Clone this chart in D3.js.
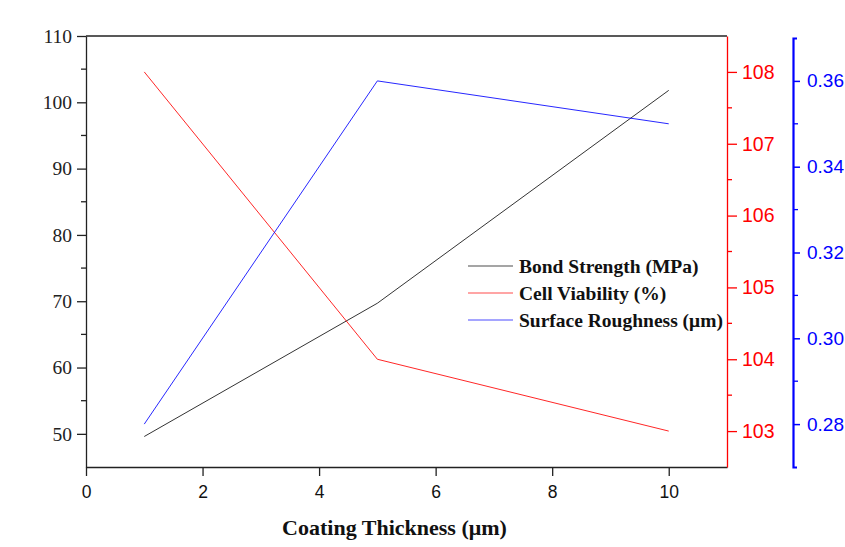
<!DOCTYPE html>
<html>
<head>
<meta charset="utf-8">
<script src="https://cdn.jsdelivr.net/npm/d3@7"></script>
<style>
  body { margin: 0; background: #fff; }
  svg { display: block; }
</style>
</head>
<body>
<script>
// data
const thickness = [1, 5, 10];
const bondStrength = [49.6, 69.7, 101.8];
const cellViability = [108.0, 104.0, 103.0];
const roughness = [0.280, 0.360, 0.350];

const seriesNames = ['Bond Strength (MPa)', 'Cell Viability (%)', 'Surface Roughness (\u03bcm)'];
const seriesColors = ['#000000', '#ff0000', '#0000ff'];

const xTicks = [0, 2, 4, 6, 8, 10];
const leftTicks = [50, 60, 70, 80, 90, 100, 110];
const redTicks = [103, 104, 105, 106, 107, 108];
const blueTicks = [0.28, 0.30, 0.32, 0.34, 0.36];

// layout
const width = 845;
const height = 547;
const plotLeft = 86, plotRight = 727, plotTop = 36, plotBottom = 467;
const blueX = 793;

const svg = d3.select('body').append('svg')
  .attr('width', width)
  .attr('height', height);

// scales
const x = d3.scaleLinear().domain([0, 11]).range([plotLeft, plotRight]);
const yLeft = d3.scaleLinear().domain([45, 110]).range([plotBottom, plotTop]);
const yRed = d3.scaleLinear().domain([102.5, 108.5]).range([plotBottom, plotTop]);
const yBlue = d3.scaleLinear().domain([0.27, 0.37]).range([plotBottom, plotTop + 2]);

// top frame line
svg.append('line')
  .attr('x1', plotLeft).attr('x2', plotRight)
  .attr('y1', plotTop).attr('y2', plotTop)
  .attr('stroke', '#222').attr('stroke-width', 1.3);

// minor ticks helper
const minor = (g, scale, vals, dir, len, color) => {
  g.selectAll(null).data(vals).join('line')
    .attr('x1', 0).attr('x2', dir * len)
    .attr('y1', (d) => scale(d)).attr('y2', (d) => scale(d))
    .attr('stroke', color).attr('stroke-width', 1.3);
};

// x axis
const gx = svg.append('g')
  .attr('transform', `translate(0,${plotBottom})`)
  .call(d3.axisBottom(x).tickValues(xTicks).tickSize(9).tickSizeOuter(0).tickFormat(d3.format('d')));
gx.select('.domain').attr('stroke', '#222').attr('stroke-width', 1.3);
gx.selectAll('.tick line').attr('stroke', '#222').attr('stroke-width', 1.3);
gx.selectAll('.tick text')
  .attr('dy', '1.1em')
  .style('font-family', '"Liberation Sans", Arial, sans-serif')
  .style('font-size', '17.5px')
  .attr('fill', '#111');

// left axis
const gl = svg.append('g')
  .attr('transform', `translate(${plotLeft},0)`)
  .call(d3.axisLeft(yLeft).tickValues(leftTicks).tickSize(9).tickSizeOuter(0));
gl.select('.domain').attr('stroke', '#222').attr('stroke-width', 1.3);
gl.selectAll('.tick line').attr('stroke', '#222').attr('stroke-width', 1.3);
gl.selectAll('.tick text')
  .attr('x', -14)
  .style('font-family', '"Liberation Serif", "Times New Roman", serif')
  .style('font-size', '19.5px')
  .attr('fill', '#222');
minor(gl, yLeft, [55, 65, 75, 85, 95, 105], -1, 5, '#222');

// red axis
const gr = svg.append('g')
  .attr('transform', `translate(${plotRight},0)`)
  .call(d3.axisRight(yRed).tickValues(redTicks).tickSize(10).tickSizeOuter(0)
    .tickFormat(d3.format('d')));
gr.select('.domain').attr('stroke', '#ff0000').attr('stroke-width', 1.3);
gr.selectAll('.tick line').attr('stroke', '#ff0000').attr('stroke-width', 1.3);
gr.selectAll('.tick text')
  .attr('x', 15)
  .style('font-family', '"Liberation Sans", Arial, sans-serif')
  .style('font-size', '19.5px')
  .attr('fill', '#ff0000');
minor(gr, yRed, [103.5, 104.5, 105.5, 106.5, 107.5], 1, 5, '#ff0000');

// blue axis
const gb = svg.append('g')
  .attr('transform', `translate(${blueX},0)`)
  .call(d3.axisRight(yBlue).tickValues(blueTicks).tickSize(7).tickSizeOuter(4)
    .tickFormat(d3.format('.2f')));
gb.select('.domain').attr('stroke', '#0000ff').attr('stroke-width', 2.2);
gb.selectAll('.tick line').attr('stroke', '#0000ff').attr('stroke-width', 1.5);
gb.selectAll('.tick text')
  .attr('x', 14)
  .style('font-family', '"Liberation Sans", Arial, sans-serif')
  .style('font-size', '19px')
  .attr('fill', '#0000ff');
minor(gb, yBlue, [0.29, 0.31, 0.33, 0.35], 1, 5, '#0000ff');

// lines
const series = [
  { vals: bondStrength, y: yLeft },
  { vals: cellViability, y: yRed },
  { vals: roughness, y: yBlue }
];
series.forEach((s, i) => {
  const line = d3.line()
    .x((d, j) => x(thickness[j]))
    .y((d) => s.y(d));
  svg.append('path')
    .datum(s.vals)
    .attr('d', line)
    .attr('fill', 'none')
    .attr('stroke', seriesColors[i])
    .attr('stroke-width', 1)
    .attr('opacity', i === 0 ? 0.8 : 0.85);
});

// legend
const legend = svg.append('g').attr('transform', 'translate(468,266)');
seriesNames.forEach((name, i) => {
  const row = legend.append('g').attr('transform', `translate(0,${i * 27})`);
  row.append('line')
    .attr('x1', 0).attr('x2', 45)
    .attr('stroke', seriesColors[i]).attr('stroke-width', 1).attr('opacity', 0.7);
  row.append('text')
    .attr('x', 51).attr('dy', '0.35em')
    .style('font-family', '"Liberation Serif", "Times New Roman", serif')
    .style('font-weight', 'bold')
    .style('font-size', '19.5px')
    .attr('fill', '#111')
    .text(name);
});

// x title
svg.append('text')
  .attr('x', (plotLeft + plotRight) / 2 - 12)
  .attr('y', 535)
  .attr('text-anchor', 'middle')
  .style('font-family', '"Liberation Serif", "Times New Roman", serif')
  .style('font-weight', 'bold')
  .style('font-size', '22px')
  .attr('fill', '#111')
  .text('Coating Thickness (\u03bcm)');
</script>
</body>
</html>
